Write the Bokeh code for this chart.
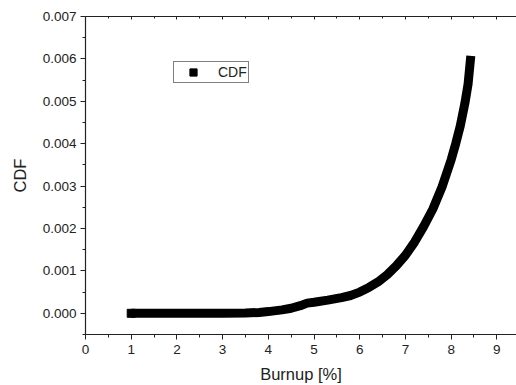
from bokeh.plotting import figure
from bokeh.models import Range1d, FixedTicker, NumeralTickFormatter, LinearAxis, Legend, LegendItem
from bokeh.embed import file_html
from bokeh.resources import INLINE

burnup = [1.0, 1.5, 2.0, 2.5, 3.0, 3.5, 3.8, 4.0, 4.3, 4.5, 4.7, 4.85, 5.0, 5.3, 5.6,
          5.8, 6.0, 6.2, 6.4, 6.6, 6.8, 7.0, 7.2, 7.4, 7.6, 7.8, 8.0, 8.1, 8.2, 8.3,
          8.37, 8.43]
cdf = [0.0, 0.0, 0.0, 0.0, 0.0, 0.000005, 0.00002, 0.00004, 0.00008, 0.00012, 0.00018,
       0.00024, 0.00026, 0.00031, 0.00037, 0.00042, 0.00050, 0.00061, 0.00074, 0.00091,
       0.00112, 0.00137, 0.00168, 0.00205, 0.00246, 0.00298, 0.00362, 0.00400, 0.00442,
       0.00495, 0.00540, 0.00607]
x_ticks = [0, 1, 2, 3, 4, 5, 6, 7, 8, 9]
y_ticks = [0.0, 0.001, 0.002, 0.003, 0.004, 0.005, 0.006, 0.007]
series_name = "CDF"
x_title = "Burnup [%]"
y_title = "CDF"

FONT = "Liberation Sans"

p = figure(width=516, height=385, output_backend="svg", toolbar_location=None,
           x_range=Range1d(0, 9.43), y_range=Range1d(-0.0005, 0.007),
           min_border_left=85, min_border_top=16, min_border_bottom=51, min_border_right=0)
p.xgrid.visible = False
p.ygrid.visible = False
p.outline_line_color = None

p.line(burnup, cdf, line_width=9, line_color="black", line_join="round")
# square only at the first point (flat start), so it stays inside the band
sc = p.scatter(burnup[:1], cdf[:1], marker="square", size=8, fill_color="black",
               line_color="black", line_width=1)

x_minor = [v + 0.5 for v in x_ticks]
y_minor = [v + 0.0005 for v in y_ticks] + [-0.0005]

xa = p.xaxis[0]
xa.ticker = FixedTicker(ticks=x_ticks, minor_ticks=x_minor)
ya = p.yaxis[0]
ya.ticker = FixedTicker(ticks=y_ticks, minor_ticks=y_minor)
ya.formatter = NumeralTickFormatter(format="0.000")

for ax in (xa, ya):
    ax.axis_line_color = "#222222"
    ax.axis_line_width = 1.2
    ax.major_tick_line_color = "#222222"
    ax.minor_tick_line_color = "#222222"
    ax.major_tick_out = 5
    ax.major_tick_in = 0
    ax.minor_tick_out = 3
    ax.minor_tick_in = 0
    ax.major_label_text_font = FONT
    ax.major_label_text_font_size = "13.5px"
    ax.major_label_text_color = "#222222"
    ax.axis_label_text_font = FONT
    ax.axis_label_text_font_size = "16.5px"
    ax.axis_label_text_font_style = "normal"
    ax.axis_label_text_color = "#222222"

xa.axis_label = x_title
xa.major_label_standoff = 5
xa.axis_label_standoff = 8
ya.axis_label = y_title
ya.major_label_standoff = 4
ya.axis_label_standoff = 11

top = LinearAxis(ticker=FixedTicker(ticks=x_ticks, minor_ticks=x_minor))
top.major_label_overrides = {t: "" for t in x_ticks}
top.major_label_standoff = 0
top.major_tick_out = 0
top.major_tick_in = 3
top.minor_tick_out = 0
top.minor_tick_in = 2
top.axis_line_color = "#222222"
top.axis_line_width = 1.2
top.major_tick_line_color = "#222222"
top.minor_tick_line_color = "#222222"
p.add_layout(top, "above")

legend = Legend(items=[LegendItem(label=series_name, renderers=[sc])],
                location=(88, 251))
legend.border_line_color = "black"
legend.border_line_width = 1
legend.padding = 1
legend.margin = 0
legend.spacing = 0
legend.glyph_width = 36
legend.glyph_height = 18
legend.label_height = 14
legend.label_standoff = 7
legend.label_text_font = FONT
legend.label_text_font_size = "14px"
legend.label_text_color = "#222222"
legend.background_fill_alpha = 1
p.add_layout(legend, "center")

open("out.html", "w").write(file_html(p, INLINE))
